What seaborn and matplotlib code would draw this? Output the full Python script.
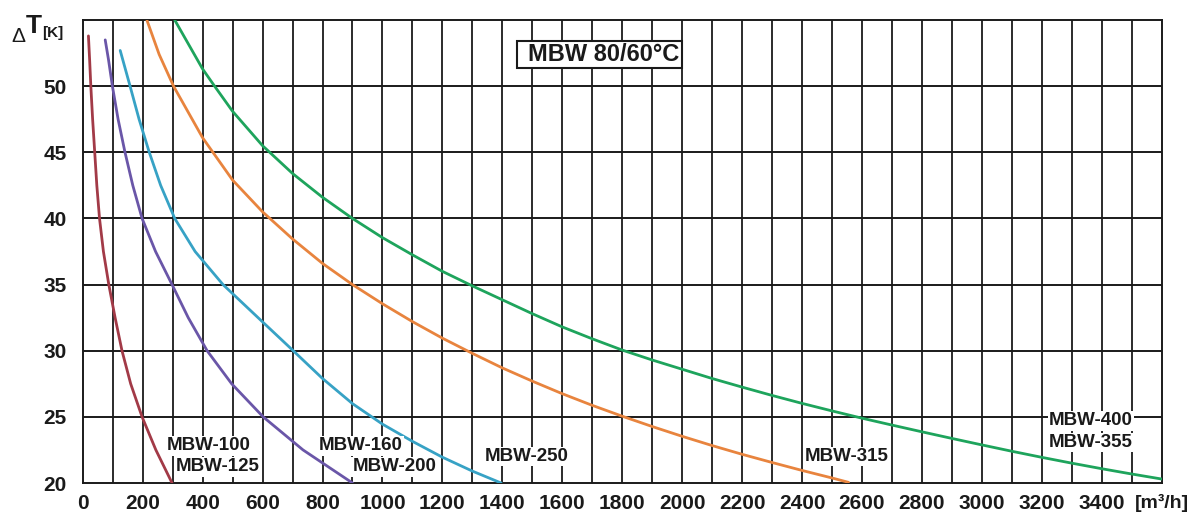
import numpy as np
import pandas as pd
import matplotlib
matplotlib.use("Agg")
import matplotlib.pyplot as plt
from matplotlib.patches import Rectangle
import seaborn as sns

# curve data: flow [m3/h] vs delta T [K]
red_x = [19, 23, 27, 33, 40, 47, 56, 69, 87, 108, 131, 160, 198, 244, 298]
red_y = [53.8, 52, 50, 47.5, 45, 42.5, 40, 37.5, 35, 32.5, 30, 27.5, 25, 22.5, 20]

purple_x = [75, 86, 99, 118, 141, 167, 198, 243, 298, 352, 415, 497, 602, 735, 900]
purple_y = [53.5, 52, 50, 47.5, 45, 42.5, 40, 37.5, 35, 32.5, 30, 27.5, 25, 22.5, 20]

cyan_x = [125, 158, 188, 222, 260, 307, 375, 468, 585, 700, 800, 900, 1000, 1100,
          1200, 1300, 1396]
cyan_y = [52.7, 50, 47.5, 45, 42.5, 40, 37.5, 35, 32.5, 30.05, 27.9, 26.0, 24.45, 23.15,
          21.95, 20.9, 20]

orange_x = [214, 255, 303, 400, 500, 600, 700, 800, 900, 1000, 1100, 1200, 1300, 1400,
            1500, 1600, 1700, 1800, 1900, 2000, 2100, 2200, 2300, 2400, 2500, 2555]
orange_y = [55, 52.4, 50, 46.1, 42.9, 40.5, 38.45, 36.6, 35.0, 33.55, 32.2, 30.95, 29.8,
            28.7, 27.7, 26.75, 25.87, 25.05, 24.27, 23.53, 22.83, 22.17, 21.55, 20.95,
            20.38, 20.05]

green_x = [307, 400, 440, 500, 600, 700, 800, 900, 1000, 1100, 1200, 1300, 1400, 1500,
           1600, 1700, 1800, 1900, 2000, 2100, 2200, 2300, 2400, 2500, 2600, 2700, 2800,
           2900, 3000, 3100, 3200, 3300, 3400, 3500, 3600]
green_y = [55, 51.3, 50, 48.1, 45.5, 43.4, 41.6, 40.0, 38.55, 37.25, 36.0, 34.9, 33.85,
           32.8, 31.8, 30.9, 30.05, 29.3, 28.6, 27.9, 27.25, 26.62, 26.02, 25.45, 24.9,
           24.38, 23.87, 23.37, 22.88, 22.4, 21.94, 21.5, 21.08, 20.68, 20.3]

curve_names = ["red", "purple", "cyan", "orange", "green"]
curve_colors = ["#a23a47", "#6a56a8", "#37a2c5", "#e8843e", "#1ea45c"]

x_ticks = list(range(0, 3601, 200))
x_tick_labels = [str(v) for v in x_ticks[:-1]] + ["[m³/h]"]
y_ticks = [20, 25, 30, 35, 40, 45, 50]

labels = ["MBW-100", "MBW-125", "MBW-160", "MBW-200", "MBW-250", "MBW-315",
          "MBW-400", "MBW-355"]
label_x = [281, 312, 788, 901, 1342, 2408, 3224, 3224]
label_y = [22.81, 21.23, 22.81, 21.23, 21.99, 21.99, 24.7, 23.06]

title = "MBW 80/60°C"

sns.set_style("white")
plt.rcParams["font.family"] = ["Liberation Sans Narrow", "Liberation Sans", "DejaVu Sans"]

frames = []
for name, xs, ys in zip(curve_names,
                        [red_x, purple_x, cyan_x, orange_x, green_x],
                        [red_y, purple_y, cyan_y, orange_y, green_y]):
    frames.append(pd.DataFrame({"flow": xs, "dT": ys, "curve": name}))
df = pd.concat(frames, ignore_index=True)

fig = plt.figure(figsize=(11.87, 5.14), dpi=100)
ax = fig.add_axes([0.0697, 0.0603, 0.909, 0.9007])

# grid first so the curves sit on top
for v in range(100, 3600, 100):
    ax.axvline(v, color="#1a1a1a", lw=1.3, zorder=1)
for v in range(25, 55, 5):
    ax.axhline(v, color="#1a1a1a", lw=1.4, zorder=1)

sns.lineplot(data=df, x="flow", y="dT", hue="curve", hue_order=curve_names,
             palette=curve_colors, estimator=None, legend=False, lw=2.0, ax=ax, zorder=3)

ax.set_xlim(0, 3600)
ax.set_ylim(20, 55)
ax.set_xticks(x_ticks)
ax.set_xticklabels(x_tick_labels)
ax.set_yticks(y_ticks)
ax.set_xlabel("")
ax.set_ylabel("")
ax.tick_params(axis="both", which="major", direction="out", length=3, width=1.4,
               color="#1a1a1a", labelsize=15, pad=5)
ax.tick_params(axis="y", pad=8.5)
for lab in ax.get_xticklabels() + ax.get_yticklabels():
    lab.set_fontweight("bold")
    lab.set_color("#1a1a1a")
ax.get_xticklabels()[-1].set_fontsize(14)
for sp in ax.spines.values():
    sp.set_visible(True)
    sp.set_color("#1a1a1a")
    sp.set_linewidth(1.4)

for txt, lx, ly in zip(labels, label_x, label_y):
    ax.text(lx, ly, txt, fontsize=13.5, fontweight="bold", color="#1a1a1a",
            ha="left", va="center", zorder=4,
            bbox=dict(facecolor="white", edgecolor="none", pad=1.0))

ax.add_patch(Rectangle((1449, 51.37), 549, 2.03, facecolor="white",
                       edgecolor="#1a1a1a", lw=1.5, zorder=4))
ax.text(1486, 52.38, title, fontsize=17, fontweight="bold", color="#1a1a1a",
        ha="left", va="center", zorder=5)

fig.text(0.0093, 0.918, "Δ", fontsize=15, color="#1a1a1a", ha="left", va="baseline",
         family=["Liberation Sans", "DejaVu Sans"])
fig.text(0.0219, 0.9358, "T", fontsize=19, fontweight="bold", color="#1a1a1a",
         ha="left", va="baseline", family=["Liberation Sans", "DejaVu Sans"])
fig.text(0.0354, 0.928, "[K]", fontsize=11, fontweight="bold", color="#1a1a1a",
         ha="left", va="baseline", family=["Liberation Sans", "DejaVu Sans"])

fig.savefig("out.png", dpi=100)
